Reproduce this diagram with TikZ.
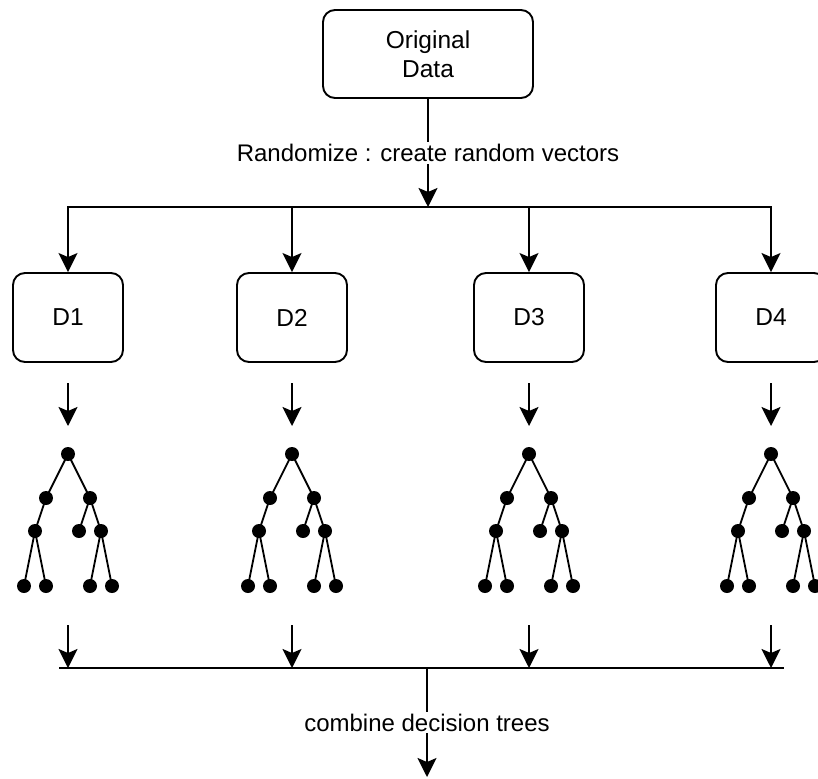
\documentclass[tikz,border=0pt]{standalone}
\usepackage{fontspec}
\setmainfont{Liberation Sans}
\usetikzlibrary{arrows.meta}
\begin{document}
\begin{tikzpicture}[x=1pt,y=-1pt,
  box/.style={draw, line width=1.9pt, rounded corners=12pt, inner sep=0pt,
    minimum width=110pt, minimum height=89pt, align=center,
    font=\fontsize{24.5}{29}\selectfont},
  link/.style={line width=1.9pt},
  arr/.style={link, -{Stealth[length=19pt,width=19pt,inset=4pt]}},
  lbl/.style={fill=white, inner sep=2pt, font=\fontsize{24}{28}\selectfont},
  dot/.style={circle, fill=black, inner sep=0pt, minimum size=14pt},
  twig/.style={line width=1.8pt}]
  \path[use as bounding box, clip] (0,0) rectangle (818,778);

  % source data and the split into four samples
  \node[box, minimum width=210pt, minimum height=88pt] (orig) at (428,54) {Original\\Data};
  \coordinate (hub) at (428,207);
  \draw[arr] (orig.south) -- (hub)
    node[lbl, pos=0.5] (rnd) {Randomize : create random vectors};

  \foreach \i/\x in {1/68,2/292,3/529,4/771} {
    \node[box] (d\i) at (\x,317.5) {D\i};
    \draw[arr] (hub) -| (d\i.north);
    % arrow from the sample to its tree
    \coordinate (a\i) at (\x,383);
    \coordinate (b\i) at (\x,426);
    \draw[arr] (a\i) -- (b\i);
    % one decision tree per sample
    \node[dot] (t\i r)   at (\x,454) {};
    \node[dot] (t\i l)   at (\x-22,498) {};
    \node[dot] (t\i rr)  at (\x+22,498) {};
    \node[dot] (t\i ll)  at (\x-33,531) {};
    \node[dot] (t\i rl)  at (\x+11,531) {};
    \node[dot] (t\i rrr) at (\x+33,531) {};
    \node[dot] (t\i a)   at (\x-44,586) {};
    \node[dot] (t\i b)   at (\x-22,586) {};
    \node[dot] (t\i c)   at (\x+22,586) {};
    \node[dot] (t\i d)   at (\x+44,586) {};
    \draw[twig] (t\i r.center) -- (t\i l.center) -- (t\i ll.center) -- (t\i a.center)
                (t\i ll.center) -- (t\i b.center)
                (t\i r.center) -- (t\i rr.center) -- (t\i rl.center)
                (t\i rr.center) -- (t\i rrr.center) -- (t\i c.center)
                (t\i rrr.center) -- (t\i d.center);
    % arrow from the tree down to the combining bar
    \coordinate (c\i) at (\x,625);
    \coordinate (e\i) at (\x,668);
    \draw[arr] (c\i) -- (e\i);
  }

  % combining bar and final output
  \coordinate (barL) at (59,668);
  \coordinate (barR) at (784,668);
  \draw[link] (barL) -- (barR);
  \coordinate (join) at (427,668);
  \coordinate (out) at (427,777);
  \draw[arr] (join) -- (out)
    node[lbl, pos=0.5] (cmb) {combine decision trees};
\end{tikzpicture}
\end{document}
